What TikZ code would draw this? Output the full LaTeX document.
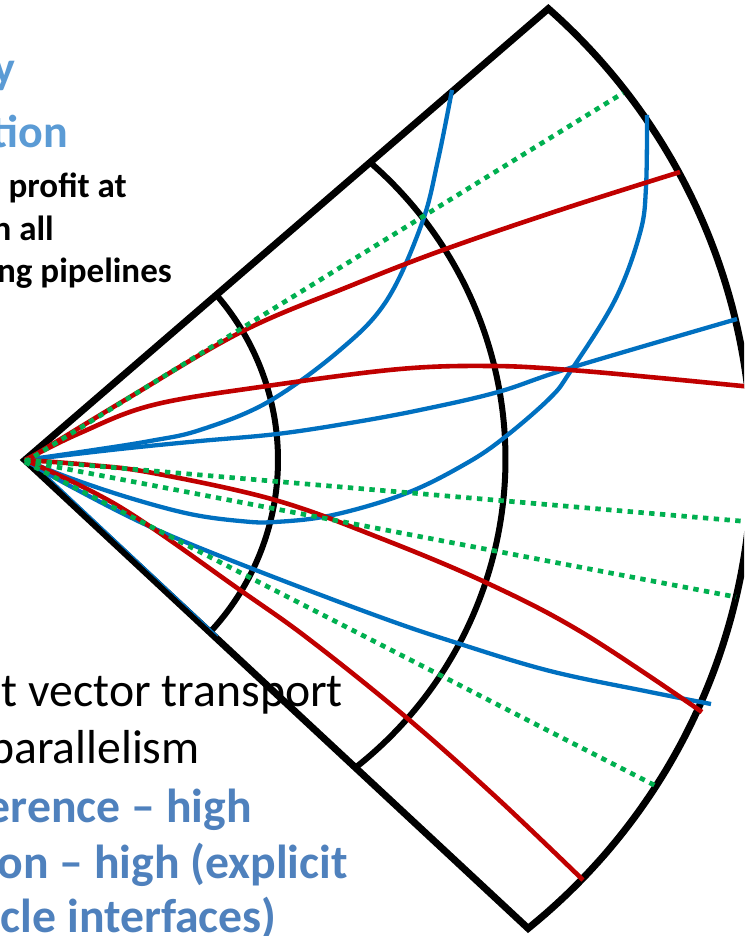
\documentclass[tikz,border=0pt]{standalone}
\usepackage{fontspec}
\setmainfont{Carlito}
\definecolor{hdblue}{HTML}{5B9BD5}
\definecolor{bdblue}{HTML}{4F81BD}
\definecolor{cred}{HTML}{C00000}
\definecolor{cblue}{HTML}{0070C0}
\definecolor{cgreen}{HTML}{00B050}
\tikzset{
  frame/.style={draw=black, line width=7pt, line join=miter},
  ring/.style={draw=black, line width=6pt},
  redline/.style={draw=cred, line width=4.6pt},
  blueline/.style={draw=cblue, line width=4.3pt},
  greenline/.style={draw=cgreen, line width=4.7pt, dash pattern=on 5.4pt off 5.4pt},
  bigtxt/.style={anchor=base east, inner sep=0pt, font=\fontsize{47.7}{57}\selectfont},
  hdtxt/.style={anchor=base east, inner sep=0pt, text=hdblue, font=\fontsize{46}{55}\selectfont\bfseries},
  smtxt/.style={anchor=base east, inner sep=0pt, font=\fontsize{35}{42}\selectfont\bfseries},
}
\begin{document}
\begin{tikzpicture}[x=1pt,y=-1pt]
\useasboundingbox (0,0) rectangle (744,936);
\clip (0,0) rectangle (744,936);
\fill[white] (0,0) rectangle (744,936);
% frame
\coordinate (apex) at (25,460);
\draw[frame] (apex) -- plot[domain=-48.57:51.09, samples=140] ({150+602*cos(\x)},{460+602*sin(\x)}) -- cycle;
\draw[ring] plot[domain=-40.77:42.97, samples=80] ({26+252*cos(\x)},{460+252*sin(\x)});
\draw[ring] plot[domain=-49.07:51.86, samples=100] ({113+392.5*cos(\x)},{459+392.5*sin(\x)});
\draw[draw=cblue, line width=1.2pt] (27,457) -- (218,636);
% blue curves
\draw[blueline] plot[smooth, tension=0.6] coordinates {(25,460) (87,451) (150,441) (200,430) (268,402) (340,350) (387,300) (422,223) (438,160) (452,90)};
\draw[blueline] plot[smooth, tension=0.6] coordinates {(25,460) (70,478) (130,498) (190,514) (240,521) (275,522) (333,515) (407,493) (467,463) (505,437) (550,398) (570,372) (615,300) (640,233) (646,187) (647,115)};
\draw[blueline] plot[smooth, tension=0.6] coordinates {(25,460) (120,449) (200,441) (277,434) (350,423) (420,410) (498,392) (570,368) (737,319)};
\draw[blueline] plot[smooth, tension=0.6] coordinates {(25,460) (70,486) (153,528) (253,569) (380,617) (457,643) (550,671) (650,692) (711,704)};
% red curves
\draw[redline] plot[smooth, tension=0.6] coordinates {(25,461) (130,397) (243,331) (350,286) (443,250) (560,210) (680,172)};
\draw[redline] plot[smooth, tension=0.6] coordinates {(25,460) (80,433) (153,405) (267,386) (400,369) (493,366) (570,370) (660,378) (752,387)};
\draw[redline] plot[smooth, tension=0.6] coordinates {(25,460) (90,465) (153,473) (275,500) (380,538) (487,583) (583,633) (702,712)};
\draw[redline] plot[smooth, tension=0.6] coordinates {(25,460) (120,507) (240,590) (310,640) (407,718) (497,798) (583,880)};
% green dotted
\coordinate (g1) at (623,93);
\coordinate (g2) at (752,522);
\coordinate (g3) at (736,597);
\coordinate (g4) at (656,786);
\draw[greenline] (25,462) -- (g1);
\draw[greenline] (apex) -- (g2);
\draw[greenline] (25,461) -- (g3);
\draw[greenline] (25,462) -- (g4);
% texts
\node[hdtxt] (h1) at (15,84) {y};
\node[hdtxt] (h2) at (68,148) {tion};
\node[smtxt] (s1) at (127,197) {profit at};
\node[smtxt] (s2) at (54,240) {n all};
\node[smtxt] (s3) at (172,282) {ng pipelines};
\node[bigtxt] (b1) at (343,706) {t vector transport};
\node[bigtxt] (b2) at (200,763) {parallelism};
\node[bigtxt, text=bdblue, font=\fontsize{47.7}{57}\selectfont\bfseries] (b3) at (252,822) {erence – high};
\node[bigtxt, text=bdblue, font=\fontsize{47.7}{57}\selectfont\bfseries] (b4) at (348,878) {on – high (explicit};
\node[bigtxt, text=bdblue, font=\fontsize{47.7}{57}\selectfont\bfseries] (b5) at (277,932) {icle interfaces)};
\end{tikzpicture}
\end{document}
